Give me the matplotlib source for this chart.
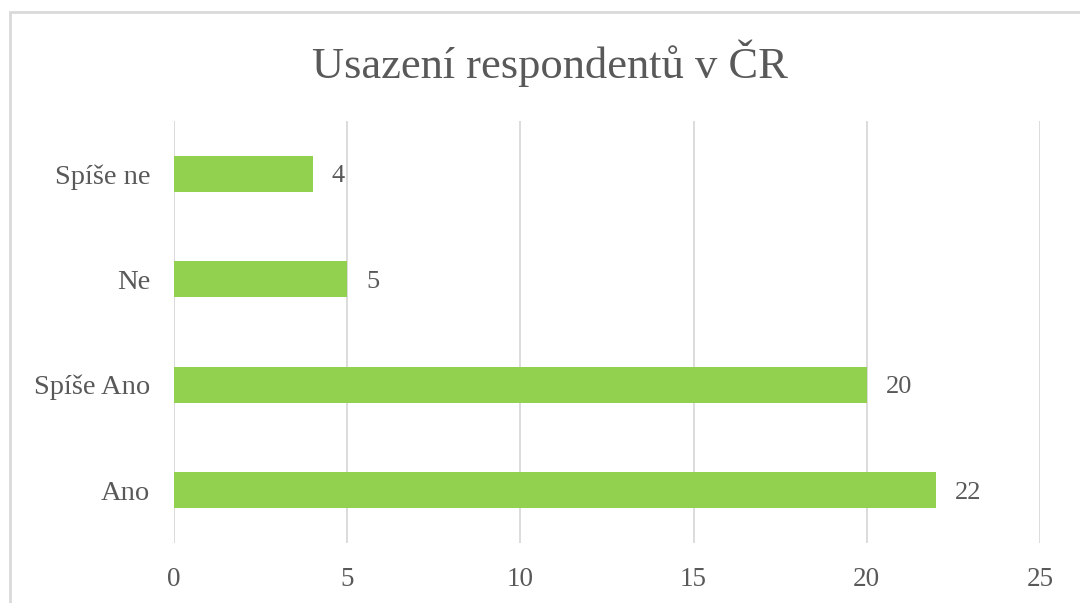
import matplotlib
matplotlib.use("Agg")
import matplotlib.pyplot as plt
from matplotlib.patches import Rectangle

categories = ["Ano", "Spíše Ano", "Ne", "Spíše ne"]
values = [22, 20, 5, 4]
xticks = [0, 5, 10, 15, 20, 25]
title = "Usazení respondentů v ČR"

plt.rcParams['font.family'] = ['Liberation Serif', 'DejaVu Serif']
txt = "#595959"

fig = plt.figure(figsize=(10.8, 6.03), dpi=100)
fig.patches.append(Rectangle((10/1080, -0.1), 1.2, 1 - 12/603 + 0.1, transform=fig.transFigure,
                             fill=False, edgecolor="#d9d9d9", linewidth=2.0))
ax = fig.add_axes([174/1080, 1 - 543/603, (1040 - 174)/1080, (543 - 121)/603])

y = list(range(len(categories)))
ax.barh(y, values, height=0.34, color="#92d050", zorder=3)
ax.set_xlim(0, 25)
ax.set_ylim(-0.5, len(categories) - 0.5)
ax.set_xticks(xticks)
ax.set_xticklabels([str(t) for t in xticks], fontsize=19.5, color=txt)
ax.set_yticks(y)
ax.set_yticklabels(categories, fontsize=20.5, color=txt)
ax.tick_params(axis='x', length=0, pad=17)
ax.tick_params(axis='y', length=0, pad=17)
ax.grid(axis='x', color="#d9d9d9", linewidth=1.3, zorder=0)
for s in ax.spines.values():
    s.set_visible(False)

for yi, v in zip(y, values):
    ax.annotate(str(v), (v, yi), xytext=(13.5, 0), textcoords="offset points",
                ha="left", va="center_baseline", fontsize=19, color=txt)

fig.text(550/1080, 1 - 63/603, title, ha="center", va="center", fontsize=32, color=txt)

fig.savefig("out.png", dpi=100, facecolor="white")
